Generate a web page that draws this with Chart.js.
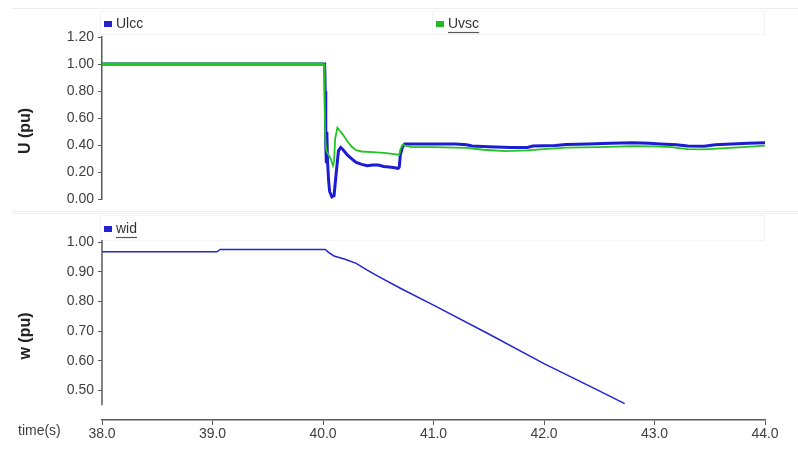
<!DOCTYPE html>
<html>
<head>
<meta charset="utf-8">
<script src="https://cdn.jsdelivr.net/npm/chart.js@4/dist/chart.umd.min.js"></script>
<style>
  html, body { margin: 0; padding: 0; background: #fff; }
  #wrap { position: relative; width: 798px; height: 475px; background: #fff; overflow: hidden; }
  #wrap canvas { position: absolute; left: 0; }
</style>
</head>
<body>
<div id="wrap">
  <canvas id="cTop" width="798" height="212" style="top:0"></canvas>
  <canvas id="cBot" width="798" height="263" style="top:212px"></canvas>
</div>
<script>
// ---- voltage at the two converter buses (pu) ----
const ulccTime  = [38.0, 39.0, 40.0, 40.015, 40.02, 40.025, 40.03, 40.035, 40.04, 40.05, 40.06, 40.08, 40.10, 40.12, 40.14, 40.16, 40.18, 40.22, 40.26, 40.30, 40.35, 40.40, 40.45, 40.50, 40.55, 40.60, 40.65, 40.68, 40.69, 40.70, 40.72, 40.74, 40.80, 41.0, 41.2, 41.3, 41.35, 41.5, 41.7, 41.85, 41.9, 42.0, 42.1, 42.2, 42.4, 42.6, 42.8, 42.95, 43.05, 43.2, 43.3, 43.45, 43.55, 43.7, 43.85, 44.0];
const ulccValue = [1.00, 1.00, 1.00, 1.00, 0.80, 0.40, 0.28, 0.50, 0.30, 0.15, 0.06, 0.02, 0.03, 0.20, 0.36, 0.385, 0.37, 0.33, 0.30, 0.275, 0.26, 0.25, 0.255, 0.255, 0.245, 0.24, 0.235, 0.23, 0.24, 0.33, 0.39, 0.41, 0.41, 0.41, 0.41, 0.405, 0.395, 0.39, 0.385, 0.385, 0.395, 0.398, 0.40, 0.407, 0.41, 0.415, 0.42, 0.415, 0.41, 0.405, 0.395, 0.393, 0.405, 0.41, 0.415, 0.42];

const uvscTime  = [38.0, 39.0, 40.0, 40.01, 40.015, 40.02, 40.03, 40.05, 40.07, 40.09, 40.10, 40.11, 40.13, 40.15, 40.18, 40.22, 40.26, 40.30, 40.35, 40.45, 40.55, 40.65, 40.69, 40.70, 40.72, 40.74, 40.8, 41.0, 41.3, 41.45, 41.65, 41.85, 42.0, 42.2, 42.5, 42.8, 43.0, 43.15, 43.3, 43.45, 43.6, 43.8, 44.0];
const uvscValue = [1.00, 1.00, 1.00, 1.00, 0.75, 0.45, 0.36, 0.33, 0.30, 0.25, 0.28, 0.45, 0.53, 0.51, 0.48, 0.43, 0.39, 0.365, 0.355, 0.35, 0.345, 0.335, 0.33, 0.37, 0.405, 0.40, 0.387, 0.387, 0.382, 0.368, 0.358, 0.363, 0.373, 0.383, 0.388, 0.395, 0.393, 0.388, 0.373, 0.37, 0.378, 0.388, 0.398];

// ---- rotor speed (pu) ----
const widTime  = [38.0, 39.04, 39.07, 40.02, 40.05, 40.10, 40.2, 40.3, 40.4, 40.5, 40.7, 41.0, 41.5, 42.0, 42.5, 42.73];
const widValue = [0.967, 0.967, 0.975, 0.975, 0.965, 0.953, 0.942, 0.928, 0.905, 0.884, 0.844, 0.787, 0.69, 0.59, 0.498, 0.455];

// ---- axis ticks ----
const timeTicks = [38, 39, 40, 41, 42, 43, 44];
const uTicks = [0, 0.2, 0.4, 0.6, 0.8, 1.0, 1.2];
const wTicks = [0.5, 0.6, 0.7, 0.8, 0.9, 1.0];

const zip = (xs, ys) => xs.map((x, i) => ({ x, y: ys[i] }));

Chart.defaults.font.family = '"Liberation Sans", Arial, sans-serif';
Chart.defaults.font.size = 14;
Chart.defaults.color = '#404040';

const AXIS = '#5a5a5a';
const FAINT = '#eeeef4';

const xScale = (show) => ({
  type: 'linear', min: 38, max: 44, display: show,
  afterBuildTicks: s => { s.ticks = timeTicks.map(v => ({ value: v })); },
  afterFit: s => { if (show) s.height = 55; },
  border: { display: true, color: AXIS, width: 1.5 },
  grid: { drawOnChartArea: false, drawTicks: true, tickLength: 5, color: AXIS, lineWidth: 1 },
  ticks: { padding: 1, color: '#404040', maxRotation: 0, callback: v => Number(v).toFixed(1) }
});

const yScale = (min, max, list, showBorder) => ({
  type: 'linear', min, max,
  afterBuildTicks: s => { s.ticks = list.map(v => ({ value: v })); },
  afterFit: s => { s.width = 102; },
  border: { display: showBorder, color: AXIS, width: 1.5 },
  grid: { drawOnChartArea: false, drawTicks: true, tickLength: 4, color: AXIS, lineWidth: 1 },
  ticks: { padding: 4, color: '#404040', callback: v => Number(v).toFixed(2) }
});

function text(ctx, str, x, y, opts = {}) {
  ctx.save();
  ctx.font = opts.font || '14px "Liberation Sans", Arial, sans-serif';
  ctx.fillStyle = opts.color || '#333';
  ctx.textAlign = opts.align || 'left';
  ctx.textBaseline = 'middle';
  if (opts.rotate) {
    ctx.translate(x, y);
    ctx.rotate(-Math.PI / 2);
    ctx.fillText(str, 0, 0);
  } else {
    ctx.fillText(str, x, y);
  }
  ctx.restore();
}

function legendItem(ctx, label, color, x, y, underline) {
  ctx.save();
  ctx.fillStyle = color;
  ctx.fillRect(x, y - 3, 8, 6);
  ctx.restore();
  text(ctx, label, x + 12, y, { color: '#333' });
  if (underline) {
    ctx.save();
    ctx.font = '14px "Liberation Sans", Arial, sans-serif';
    const w = ctx.measureText(label).width;
    ctx.strokeStyle = '#555';
    ctx.lineWidth = 1.2;
    ctx.beginPath();
    ctx.moveTo(x + 12, y + 8.5);
    ctx.lineTo(x + 12 + w, y + 8.5);
    ctx.stroke();
    ctx.restore();
  }
}

// panel frame, legend strip and labels for the voltage panel
const topDecor = {
  id: 'topDecor',
  beforeDraw(chart) {
    const ctx = chart.ctx;
    ctx.save();
    ctx.strokeStyle = FAINT;
    ctx.lineWidth = 1;
    ctx.beginPath();
    ctx.moveTo(12, 8.5); ctx.lineTo(798, 8.5);
    ctx.moveTo(12, 211.5); ctx.lineTo(798, 211.5);
    ctx.stroke();
    ctx.strokeStyle = '#f3f3f8';
    ctx.strokeRect(100.5, 11.5, 664, 23);
    ctx.beginPath(); ctx.moveTo(432.5, 11.5); ctx.lineTo(432.5, 34.5); ctx.stroke();
    ctx.restore();
  },
  afterDraw(chart) {
    const ctx = chart.ctx;
    legendItem(ctx, 'Ulcc', '#2222cc', 104, 24, false);
    legendItem(ctx, 'Uvsc', '#22bb22', 436, 24, true);
    text(ctx, 'U (pu)', 26, 131, { font: 'bold 16px "Liberation Sans", Arial, sans-serif', color: '#222', align: 'center', rotate: true });
  }
};

// frame, legend, shortened y axis line and time label for the speed panel
const botDecor = {
  id: 'botDecor',
  beforeDraw(chart) {
    const ctx = chart.ctx;
    ctx.save();
    ctx.strokeStyle = FAINT;
    ctx.lineWidth = 1;
    ctx.beginPath();
    ctx.moveTo(12, 1.5); ctx.lineTo(798, 1.5);
    ctx.stroke();
    ctx.strokeStyle = '#f3f3f8';
    ctx.strokeRect(100.5, 3.5, 664, 25);
    ctx.restore();
  },
  afterDraw(chart) {
    const ctx = chart.ctx;
    const y = chart.scales.y;
    const x0 = chart.chartArea.left;
    ctx.save();
    ctx.strokeStyle = AXIS;
    ctx.lineWidth = 1.5;
    ctx.beginPath();
    ctx.moveTo(x0, y.getPixelForValue(1.0) - 2);
    ctx.lineTo(x0, y.getPixelForValue(0.45));
    ctx.stroke();
    ctx.restore();
    legendItem(ctx, 'wid', '#2222cc', 104, 17, true);
    text(ctx, 'w (pu)', 26, 124, { font: 'bold 16px "Liberation Sans", Arial, sans-serif', color: '#222', align: 'center', rotate: true });
    text(ctx, 'time(s)', 18, 219, { color: '#404040' });
  }
};

const common = {
  responsive: false,
  maintainAspectRatio: false,
  animation: false,
  parsing: false,
  plugins: { legend: { display: false }, tooltip: { enabled: false } },
  elements: { point: { radius: 0 }, line: { tension: 0 } }
};

new Chart(document.getElementById('cTop'), {
  type: 'line',
  data: {
    datasets: [
      { label: 'Ulcc', data: zip(ulccTime, ulccValue), borderColor: '#1c1cd0', borderWidth: 3, order: 1 },
      {
        label: 'Uvsc', data: zip(uvscTime, uvscValue), borderColor: '#22c422', borderWidth: 1.8, order: 0,
        // the steady pre-fault trace is drawn heavier
        segment: { borderWidth: c => (c.p1.parsed.x <= 40.0 ? 3.2 : 1.8) }
      }
    ]
  },
  options: {
    ...common,
    layout: { padding: { top: 37, bottom: 10, left: 0, right: 33 } },
    scales: { x: xScale(false), y: yScale(0, 1.2, uTicks, true) }
  },
  plugins: [topDecor]
});

new Chart(document.getElementById('cBot'), {
  type: 'line',
  data: {
    datasets: [
      { label: 'wid', data: zip(widTime, widValue), borderColor: '#2424d4', borderWidth: 1.5 }
    ]
  },
  options: {
    ...common,
    layout: { padding: { top: 30, bottom: 0, left: 0, right: 33 } },
    scales: { x: xScale(true), y: yScale(0.4, 1.0, wTicks, false) }
  },
  plugins: [botDecor]
});
</script>
</body>
</html>
